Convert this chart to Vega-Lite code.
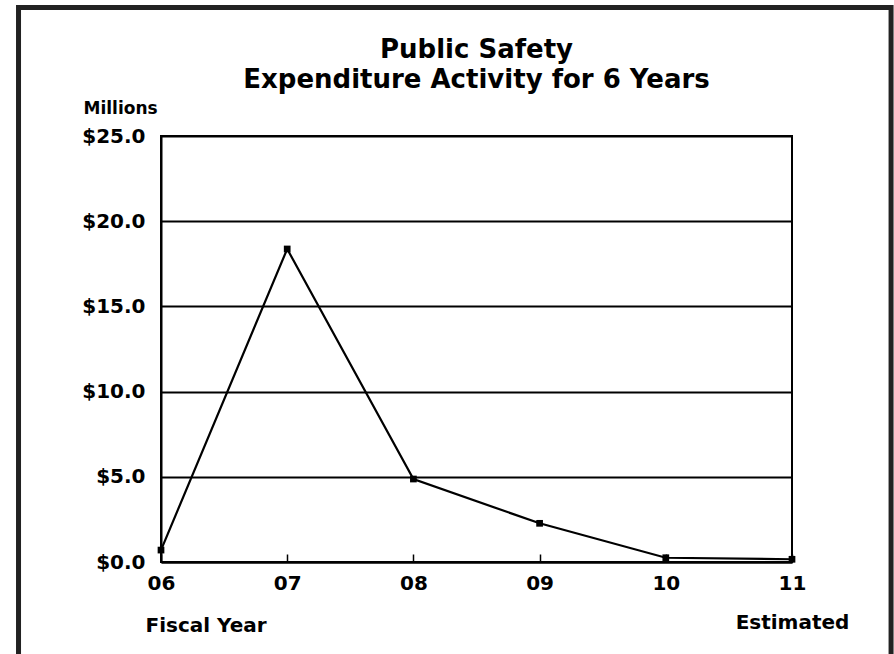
{
  "$schema": "https://vega.github.io/schema/vega-lite/v6.json",
  "width": 631,
  "height": 426,
  "autosize": "none",
  "padding": {"left": 161, "top": 136, "right": 102, "bottom": 92},
  "background": "white",
  "config": {
    "view": {"stroke": "black", "strokeWidth": 2},
    "font": "DejaVu Sans"
  },
  "title": {
    "text": ["Public Safety", "Expenditure Activity for 6 Years"],
    "font": "DejaVu Sans",
    "fontSize": 26,
    "fontWeight": "bold",
    "lineHeight": 30,
    "anchor": "middle",
    "frame": "group",
    "baseline": "alphabetic",
    "color": "black",
    "offset": -109
  },
  "data": {
    "values": [
      {"fy": 6, "amount": 0.70},
      {"fy": 7, "amount": 18.37},
      {"fy": 8, "amount": 4.87},
      {"fy": 9, "amount": 2.27},
      {"fy": 10, "amount": 0.25},
      {"fy": 11, "amount": 0.16}
    ]
  },
  "layer": [
    {
      "mark": {"type": "line", "color": "black", "strokeWidth": 2.2},
      "encoding": {
        "x": {
          "field": "fy", "type": "quantitative",
          "scale": {"domain": [6, 11], "nice": false, "zero": false},
          "axis": {
            "values": [6, 7, 8, 9, 10, 11],
            "labelExpr": "datum.value == 11 ? ['11', 'Estimated'] : (datum.value < 10 ? '0' + datum.value : '' + datum.value)",
            "labelFont": "DejaVu Sans",
            "labelFontSize": 20,
            "labelFontWeight": "bold",
            "labelColor": "black",
            "labelBaseline": "top",
            "labelAlign": "center",
            "labelFlush": false,
            "labelOverlap": false,
            "labelPadding": 19,
            "labelLineHeight": 39,
            "tickSize": -8,
            "tickColor": "black",
            "tickWidth": 1.5,
            "domainColor": "black",
            "domainWidth": 2,
            "grid": false,
            "title": "Fiscal Year",
            "titleFont": "DejaVu Sans",
            "titleFontSize": 20,
            "titleFontWeight": "bold",
            "titleColor": "black",
            "titleAlign": "left",
            "titleBaseline": "alphabetic",
            "titleX": -16,
            "titleY": 69
          }
        },
        "y": {
          "field": "amount", "type": "quantitative",
          "scale": {"domain": [0, 25], "nice": false},
          "axis": {
            "values": [0, 5, 10, 15, 20, 25],
            "format": "$.1f",
            "labelFont": "DejaVu Sans",
            "labelFontSize": 20,
            "labelFontWeight": "bold",
            "labelColor": "black",
            "labelPadding": 16,
            "ticks": false,
            "domainColor": "black",
            "domainWidth": 2,
            "grid": true,
            "gridColor": "black",
            "gridWidth": 2,
            "gridOpacity": 1,
            "title": "Millions",
            "titleFont": "DejaVu Sans",
            "titleFontSize": 17,
            "titleFontWeight": "bold",
            "titleColor": "black",
            "titleAngle": 0,
            "titleAlign": "left",
            "titleBaseline": "alphabetic",
            "titleX": -78,
            "titleY": -23
          }
        }
      }
    },
    {
      "mark": {"type": "point", "shape": "square", "filled": true, "color": "black", "opacity": 1, "size": 45},
      "encoding": {
        "x": {"field": "fy", "type": "quantitative"},
        "y": {"field": "amount", "type": "quantitative"}
      }
    },
    {
      "data": {"values": [{}]},
      "mark": {"type": "rect", "filled": false, "stroke": "#222222", "strokeWidth": 5, "clip": false},
      "encoding": {
        "x": {"datum": 4.871, "type": "quantitative"},
        "x2": {"datum": 11.785},
        "y": {"datum": 32.54, "type": "quantitative"},
        "y2": {"datum": -5.75}
      }
    }
  ]
}
